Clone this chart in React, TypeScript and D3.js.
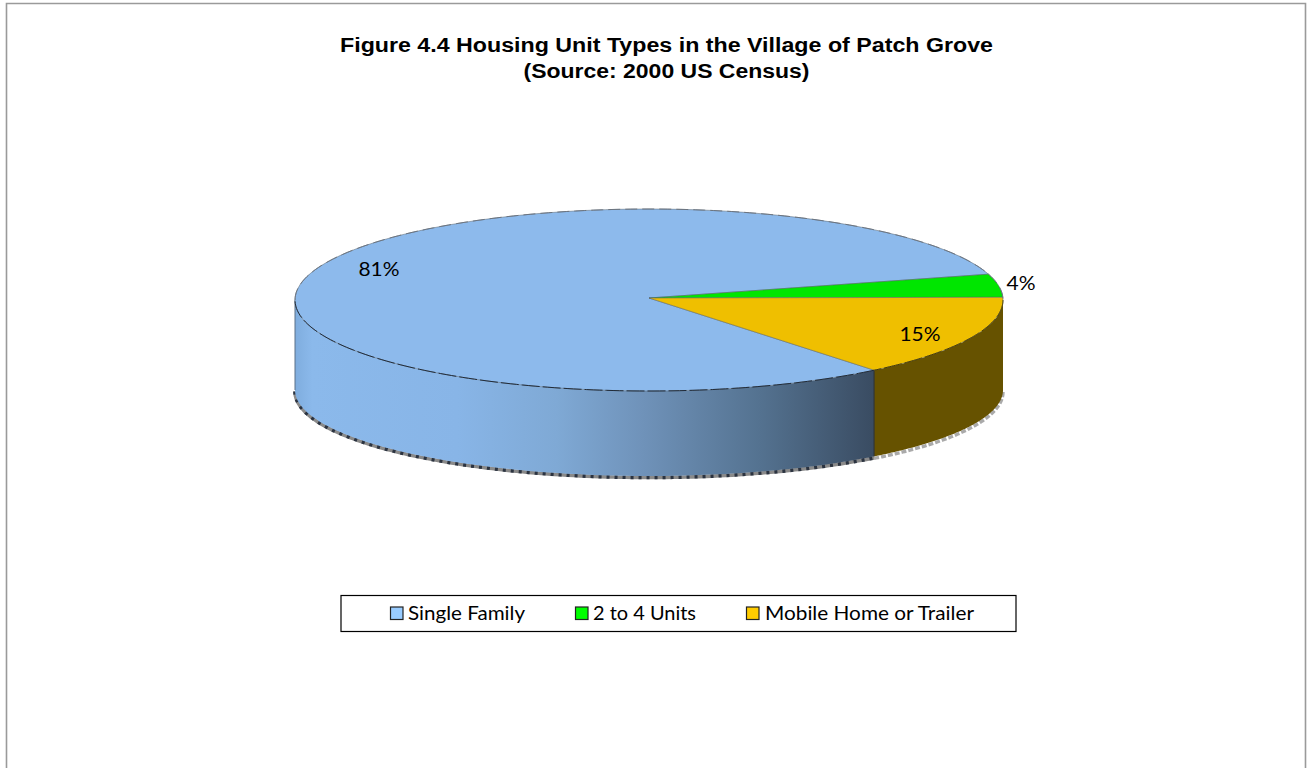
import React from "react";
import * as d3 from "d3";

const categories = ["Single Family", "2 to 4 Units", "Mobile Home or Trailer"];
const shares = [81.4, 4.1, 14.5];
const topColors = ["#8DBAEC", "#00E600", "#EFBF00"];
const legendColors = ["#99CCFF", "#00FF00", "#FFCC00"];
const titleLines = ["Figure 4.4 Housing Unit Types in the Village of Patch Grove", "(Source: 2000 US Census)"];
const titleWidths = [653, 286];
const labelOffsets: [number, number][] = [[-270, -29], [372, -15], [271, 36]];
const legendTextX = [408, 593, 765];
const legendTextW = [117, 103, 209];
const legendSwatchX = [390.5, 575.5, 746.5];

const W = 1308, H = 768;
const cx = 649, cy = 300, rx = 354, ry = 91;
const botDrop = 90, botRy = 86;
const endDeg = 50.5;
const startDeg = endDeg + 90;

const pie = d3.pie<number>().sort(null)
  .startAngle((startDeg * Math.PI) / 180)
  .endAngle((startDeg * Math.PI) / 180 + 2 * Math.PI);
const arcs = pie(shares);

// d3 angles: 0 at twelve o'clock, clockwise
const topPt = (a: number): [number, number] => [cx + rx * Math.sin(a), cy - ry * Math.cos(a)];
const botPt = (a: number, extra = 0): [number, number] => [cx + rx * Math.sin(a), cy + botDrop - botRy * Math.cos(a) + extra];
const line = d3.line<[number, number]>();
const samples = (a0: number, a1: number, f: (a: number) => [number, number]) =>
  d3.range(0, 121).map((i) => f(a0 + ((a1 - a0) * i) / 120));
const wedge = (a0: number, a1: number) => line([[cx, cy - 2], ...samples(a0, a1, topPt)]) + "Z";
const side = (a0: number, a1: number) => line([...samples(a0, a1, topPt), ...samples(a1, a0, botPt)]) + "Z";

const rightA = Math.PI / 2;
const leftA = (3 * Math.PI) / 2;
const yellowEnd = arcs[0].startAngle;
const backStart = -Math.PI / 2;

export default function App() {
  const fmt = d3.format(".0f");
  const [ex, ey] = topPt(yellowEnd);
  const [, eb] = botPt(yellowEnd);
  const [lx, ly] = topPt(leftA);
  const [, lb] = botPt(leftA);
  return (
    <svg width={W} height={H} viewBox={`0 0 ${W} ${H}`} style={{ position: "absolute", left: 0, top: 0, background: "#fff" }}>
      <defs>
        <linearGradient id="blueSide" gradientUnits="userSpaceOnUse" x1={295} x2={876} y1={0} y2={0}>
          <stop offset="0" stopColor="#7FADDE" />
          <stop offset="0.03" stopColor="#8BB9EB" />
          <stop offset="0.28" stopColor="#88B5E7" />
          <stop offset="0.45" stopColor="#7FA9D5" />
          <stop offset="0.6" stopColor="#6F92B9" />
          <stop offset="0.8" stopColor="#547290" />
          <stop offset="1" stopColor="#394B61" />
        </linearGradient>
      </defs>
      <path d="M6.5 768V3.5H1305.5V768" fill="none" stroke="#9a9a9a" strokeWidth={1.6} />
      {titleLines.map((t, i) => (
        <text key={t} x={666.5} y={52 + i * 26} textAnchor="middle" textLength={titleWidths[i]} lengthAdjust="spacingAndGlyphs" fontFamily="Liberation Sans" fontWeight="bold" fontSize={20} fill="#000">{t}</text>
      ))}

      {/* rim shadow */}
      <path d={line(samples(yellowEnd, rightA, (a) => botPt(a, 2))) ?? ""} fill="none" stroke="#aaaaaa" strokeWidth={3.4} strokeDasharray="5 2" />
      <path d={line(samples(leftA, yellowEnd, (a) => botPt(a, 1.5))) ?? ""} fill="none" stroke="#8a8a8a" strokeWidth={3.6} />
      <path d={line(samples(leftA, yellowEnd, (a) => botPt(a, 1.5))) ?? ""} fill="none" stroke="#2b3340" strokeWidth={3.6} strokeDasharray="3 5" />

      {/* sides */}
      <path d={side(yellowEnd, leftA)} fill="url(#blueSide)" />
      <path d={side(rightA, yellowEnd)} fill="#665200" />
      <path d={`M${ex} ${ey}V${eb}`} stroke="#2a2a20" strokeWidth={1} />
      <path d={`M${lx} ${ly}V${lb}`} stroke="#5a7088" strokeWidth={1} />

      {/* top */}
      {arcs.map((a, i) => (
        <path key={categories[i]} d={wedge(a.startAngle, a.endAngle)} fill={topColors[i]} stroke="#55606a" strokeWidth={0.5} />
      ))}
      <path d={line(samples(backStart, rightA, topPt)) ?? ""} fill="none" stroke="#6b7480" strokeWidth={1} strokeDasharray="12 5" />
      <path d={line(samples(yellowEnd, leftA, topPt)) ?? ""} fill="none" stroke="#1f2a38" strokeWidth={1} strokeDasharray="18 3" />
      <path d={line(samples(rightA, yellowEnd, topPt)) ?? ""} fill="none" stroke="#4a3c00" strokeWidth={1} strokeDasharray="18 3" />

      {arcs.map((a, i) => (
        <text key={i} x={cx + labelOffsets[i][0]} y={cy + labelOffsets[i][1]} textAnchor="middle" dominantBaseline="middle" textLength={i === 1 ? 29 : 41} lengthAdjust="spacingAndGlyphs" fontFamily="Lato" fontSize={20} fill="#000">{fmt(shares[i])}%</text>
      ))}

      {/* legend */}
      <rect x={341} y={595.5} width={675} height={36} fill="#fff" stroke="#000" strokeWidth={1.2} />
      {categories.map((c, i) => (
        <g key={c}>
          <rect x={legendSwatchX[i]} y={607} width={12.5} height={12.5} fill={legendColors[i]} stroke="#222" strokeWidth={1.2} />
          <text x={legendTextX[i]} y={620} textLength={legendTextW[i]} lengthAdjust="spacingAndGlyphs" fontFamily="Lato" fontSize={19} fill="#000">{c}</text>
        </g>
      ))}
    </svg>
  );
}
